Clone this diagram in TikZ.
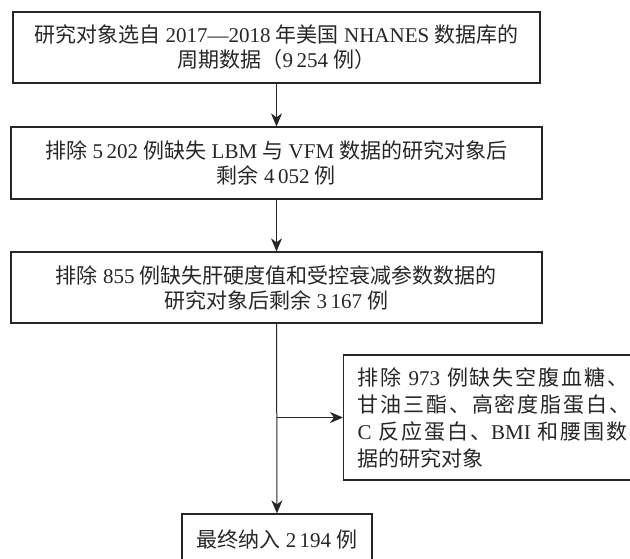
\documentclass[tikz,border=0pt]{standalone}
\usepackage{fontspec}
\setmainfont{Liberation Serif}
\newfontfamily\zhfont{Noto Sans CJK SC}
\newfontfamily\zhwidefont[LetterSpace=9]{Noto Sans CJK SC}
\newcommand{\zh}[1]{{\zhfont #1}}
\newcommand{\zhw}[1]{{\zhwidefont #1}}
\usepackage{tikz}
\usetikzlibrary{calc, positioning}
\usetikzlibrary{arrows.meta}
\tikzset{>={Stealth[length=13pt,width=11pt,inset=4pt]}}
\tikzset{
  stepbox/.style={draw=black!85, line width=1.3pt, inner sep=0pt, align=center,
    font=\fontsize{21}{25}\selectfont, text=black!85},
  flow/.style={->, draw=black!85, line width=1pt},
}

\begin{document}
\begin{tikzpicture}[x=1pt,y=-1pt]
			\useasboundingbox (0,0) rectangle (630,558);
			\clip (0,0) rectangle (630,558);
			\node [stepbox, minimum width=527, minimum height=71] (select) at (276.5,47.5)
				{\zh{研究对象选自} 2017—2018 \zh{年美国} NHANES \zh{数据库的}\\\zh{周期数据（}9\,254 \zh{例）}};
			\node [stepbox, minimum width=531, minimum height=72] (lbm) at (276.5,163)
				{\zh{排除} 5\,202 \zh{例缺失} LBM \zh{与} VFM \zh{数据的研究对象后}\\\zh{剩余} 4\,052 \zh{例}};
			\node [stepbox, minimum width=531, minimum height=71] (liver) at (276.5,287.5)
				{\zh{排除} 855 \zh{例缺失肝硬度值和受控衰减参数数据的}\\\zh{研究对象后剩余} 3\,167 \zh{例}};
			\node [stepbox, anchor=west, text width=272, inner xsep=14, minimum height=125,
				align=left, font=\fontsize{21}{27}\selectfont] (blood) at (343,417.5)
				{\zhw{排除} 973 \zhw{例缺失空腹血糖、}\\\zhw{甘油三酯、高密度脂蛋白、}\\C \zhw{反应蛋白、}BMI \zhw{和腰围数}\\\zh{据的研究对象}};
			\node [stepbox, minimum width=190, minimum height=52] (final) at (277,540)
				{\zh{最终纳入} 2\,194 \zh{例}};
			\coordinate (split) at (liver.south |- blood.west);
			\draw [flow] (select) -- (lbm);
			\draw [flow] (lbm) -- (liver);
			\draw [flow] (liver) -- (final);
			\draw [flow] (split) -- (blood);
		\end{tikzpicture}
\end{document}
